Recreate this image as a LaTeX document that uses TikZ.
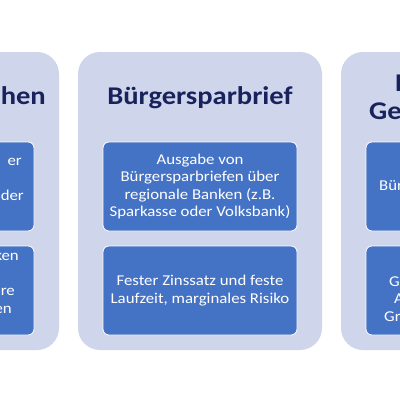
\documentclass[tikz,border=0pt]{standalone}
\usepackage{fontspec}
\setmainfont{Carlito}[FakeStretch=1.12]
\definecolor{panelfill}{HTML}{CFD5EA}
\definecolor{boxfill}{HTML}{4472C4}
\definecolor{titlecol}{HTML}{18235E}
\tikzset{
  panel/.style={fill=panelfill, draw=none, rounded corners=22pt, minimum width=244pt, minimum height=298pt, inner sep=0pt},
  infobox/.style={fill=boxfill, draw=white, line width=0.8pt, rounded corners=6pt, minimum width=194pt, minimum height=89pt, inner sep=0pt},
  ptitle/.style={font=\bfseries\fontsize{25.5}{28}\selectfont, text=titlecol, inner sep=0pt},
  btext/.style={font=\fontsize{15}{17.5}\selectfont, text=white, inner sep=0pt, align=center},
}
\begin{document}
\begin{tikzpicture}[x=1pt,y=-1pt]
\useasboundingbox (0,0) rectangle (400,400);
\fill[white] (0,0) rectangle (400,400);
% panels
\node[panel] (pL) at (-63,201) {};
\node[panel] (pM) at (200,201) {};
\node[panel] (pR) at (463,201) {};
% inner boxes
\node[infobox] (bL1) at (-63,186.5) {};
\node[infobox] (bL2) at (-63,290.5) {};
\node[infobox] (bM1) at (200,186.5) {};
\node[infobox] (bM2) at (200,290.5) {};
\node[infobox] (bR1) at (463,186.5) {};
\node[infobox] (bR2) at (463,290.5) {};
% titles
\node[ptitle, anchor=base east] (tL) at (46,104) {ehen};
\node[ptitle, anchor=base] (tM) at (200,104) {Bürgersparbrief};
\node[ptitle, anchor=base west] (tR1) at (395,91) {B};
\node[ptitle, anchor=base west] (tR2) at (369,119) {Ge};
% middle texts
\node[btext] (xM1) at (bM1.center) {Ausgabe von\\Bürgersparbriefen über\\regionale Banken (z.B.\\Sparkasse oder Volksbank)};
\node[btext] (xM2) at (bM2.center) {Fester Zinssatz und feste\\Laufzeit, marginales Risiko};
% left fragments
\node[btext, anchor=base east] (xL1a) at (22,165) {er};
\node[btext, anchor=base east] (xL1b) at (24,200) {oder};
\node[btext, anchor=base east] (xL2a) at (19,260) {ken};
\node[btext, anchor=base east] (xL2b) at (15,295.5) {ere};
\node[btext, anchor=base east] (xL2c) at (12,313) {en};
% right fragments
\node[btext, anchor=base west] (xR1) at (379,190.5) {Bür};
\node[btext, anchor=base west] (xR2a) at (389,286) {G};
\node[btext, anchor=base west] (xR2b) at (394,303.5) {A};
\node[btext, anchor=base west] (xR2c) at (384,321) {Gr};
\end{tikzpicture}
\end{document}
